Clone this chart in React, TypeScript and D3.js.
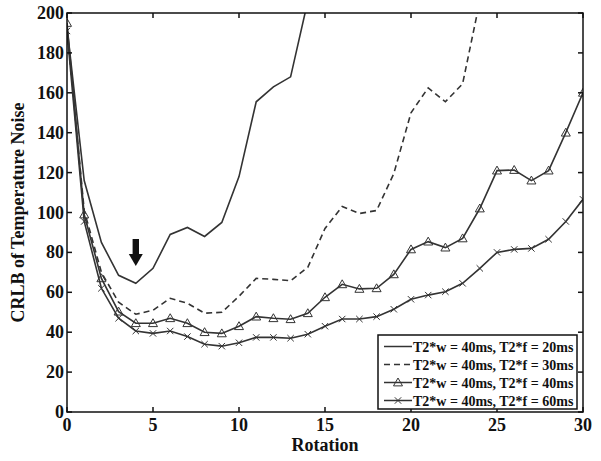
import React from 'react';
import * as d3 from 'd3';

// rotation index 0..30
const rotations = d3.range(0, 31);

// CRLB values (series stop once they leave the top of the plot)
const crlb20 = [193, 116, 85, 68.5, 64.5, 72, 89, 92.5, 88, 95, 118, 155.5, 163, 168, 206];
const crlb30 = [192, 101, 70, 55, 49, 51, 57, 54.5, 49.5, 50, 58, 67, 66.5, 65.8, 72.5, 92, 103, 99.5, 101, 119.5, 150, 162.5, 155.5, 164.5, 206];
const crlb40 = [195, 99, 67, 50.3, 44.5, 44.5, 47, 44.5, 40, 39.4, 43, 47.8, 47, 46.5, 49.5, 57.5, 64, 61.7, 62, 69, 81.5, 85.4, 82.4, 87, 102, 121, 121.3, 116, 121, 140, 160];
const crlb60 = [191, 95.5, 62, 47, 40.6, 39.4, 40.6, 37.8, 34, 33, 34.7, 37.4, 37.4, 37, 39, 43, 46.6, 46.6, 47.8, 51.5, 56.5, 58.6, 60.3, 64.5, 72, 80, 81.5, 82, 86.6, 95.5, 106.6];

const legendLabels = [
  'T2*w = 40ms, T2*f = 20ms',
  'T2*w = 40ms, T2*f = 30ms',
  'T2*w = 40ms, T2*f = 40ms',
  'T2*w = 40ms, T2*f = 60ms',
];
const xTicks = [0, 5, 10, 15, 20, 25, 30];
const yTicks = [0, 20, 40, 60, 80, 100, 120, 140, 160, 180, 200];

const W = 601;
const H = 461;
const plot = { left: 67, right: 583, top: 13, bottom: 412 };
const font = '"Liberation Serif", "Times New Roman", serif';
const lineColor = '#333';
const textColor = '#111';

const x = d3.scaleLinear().domain([0, 30]).range([plot.left, plot.right]);
const y = d3.scaleLinear().domain([0, 200]).range([plot.bottom, plot.top]);

const line = d3.line<number>()
  .x((d, i) => x(rotations[i]))
  .y(d => y(d));

function Triangle({ cx, cy }: { cx: number; cy: number }) {
  const s = 4.5;
  return (
    <path
      d={`M${cx},${cy - s} L${cx + s},${cy + s * 0.75} L${cx - s},${cy + s * 0.75} Z`}
      fill="none"
      stroke={lineColor}
      strokeWidth={1}
    />
  );
}

function Cross({ cx, cy }: { cx: number; cy: number }) {
  const s = 3.2;
  return (
    <path
      d={`M${cx - s},${cy - s} L${cx + s},${cy + s} M${cx - s},${cy + s} L${cx + s},${cy - s}`}
      stroke={lineColor}
      strokeWidth={1}
    />
  );
}

export default function App() {
  const series = [
    { data: crlb20, dash: undefined, marker: null },
    { data: crlb30, dash: '6,4', marker: null },
    { data: crlb40, dash: undefined, marker: 'tri' },
    { data: crlb60, dash: undefined, marker: 'x' },
  ];

  const legend = { x: 378, y: 335, w: 199, h: 74 };
  const arrowX = x(4);

  return (
    <svg
      width={W}
      height={H}
      style={{ position: 'absolute', left: 0, top: 0, background: '#fff' }}
    >
      <defs>
        <clipPath id="plotClip">
          <rect x={plot.left} y={plot.top} width={plot.right - plot.left} height={plot.bottom - plot.top} />
        </clipPath>
      </defs>

      {/* data lines */}
      <g clipPath="url(#plotClip)">
        {series.map((s, k) => (
          <g key={k}>
            <path
              d={line(s.data) || ''}
              fill="none"
              stroke={lineColor}
              strokeWidth={1.6}
              strokeDasharray={s.dash}
            />
            {s.marker === 'tri' && s.data.map((v, i) => <Triangle key={i} cx={x(rotations[i])} cy={y(v)} />)}
            {s.marker === 'x' && s.data.map((v, i) => <Cross key={i} cx={x(rotations[i])} cy={y(v)} />)}
          </g>
        ))}
      </g>

      {/* arrow */}
      <rect x={arrowX - 3.2} y={239} width={6.4} height={15} fill="#111" />
      <path d={`M${arrowX - 7},254 L${arrowX + 7},254 L${arrowX},266 Z`} fill="#111" />

      {/* frame */}
      <rect
        x={plot.left}
        y={plot.top}
        width={plot.right - plot.left}
        height={plot.bottom - plot.top}
        fill="none"
        stroke="#111"
        strokeWidth={1.5}
      />

      {/* ticks */}
      {xTicks.map(t => (
        <g key={'x' + t}>
          <line x1={x(t)} x2={x(t)} y1={plot.bottom} y2={plot.bottom - 5} stroke="#111" strokeWidth={1.5} />
          <line x1={x(t)} x2={x(t)} y1={plot.top} y2={plot.top + 5} stroke="#111" strokeWidth={1.5} />
          <text
            x={x(t)}
            y={plot.bottom + 19}
            textAnchor="middle"
            fontFamily={font}
            fontWeight="bold"
            fontSize={18}
            fill={textColor}
          >
            {t}
          </text>
        </g>
      ))}
      {yTicks.map(t => (
        <g key={'y' + t}>
          <line x1={plot.left} x2={plot.left + 5} y1={y(t)} y2={y(t)} stroke="#111" strokeWidth={1.5} />
          <line x1={plot.right} x2={plot.right - 5} y1={y(t)} y2={y(t)} stroke="#111" strokeWidth={1.5} />
          <text
            x={plot.left - 3}
            y={y(t) + 6}
            textAnchor="end"
            fontFamily={font}
            fontWeight="bold"
            fontSize={18}
            fill={textColor}
          >
            {t}
          </text>
        </g>
      ))}

      {/* axis titles */}
      <text
        x={(plot.left + plot.right) / 2}
        y={451}
        textAnchor="middle"
        fontFamily={font}
        fontWeight="bold"
        fontSize={18}
        fill={textColor}
      >
        Rotation
      </text>
      <text
        transform={`translate(24,${(plot.top + plot.bottom) / 2}) rotate(-90)`}
        textAnchor="middle"
        fontFamily={font}
        fontWeight="bold"
        fontSize={18}
        fill={textColor}
      >
        CRLB of Temperature Noise
      </text>

      {/* legend */}
      <rect x={legend.x} y={legend.y} width={legend.w} height={legend.h} fill="#fff" stroke="#111" strokeWidth={1.5} />
      {legendLabels.map((lab, i) => {
        const ly = legend.y + 11.5 + i * 18;
        const s = series[i];
        return (
          <g key={lab}>
            <line x1={384} x2={412} y1={ly} y2={ly} stroke={lineColor} strokeWidth={1.5} strokeDasharray={s.dash} />
            {s.marker === 'tri' && <Triangle cx={398} cy={ly} />}
            {s.marker === 'x' && <Cross cx={398} cy={ly} />}
            <text x={413} y={ly + 5} fontFamily={font} fontWeight="bold" fontSize={14} fill={textColor}>
              {lab}
            </text>
          </g>
        );
      })}
    </svg>
  );
}
